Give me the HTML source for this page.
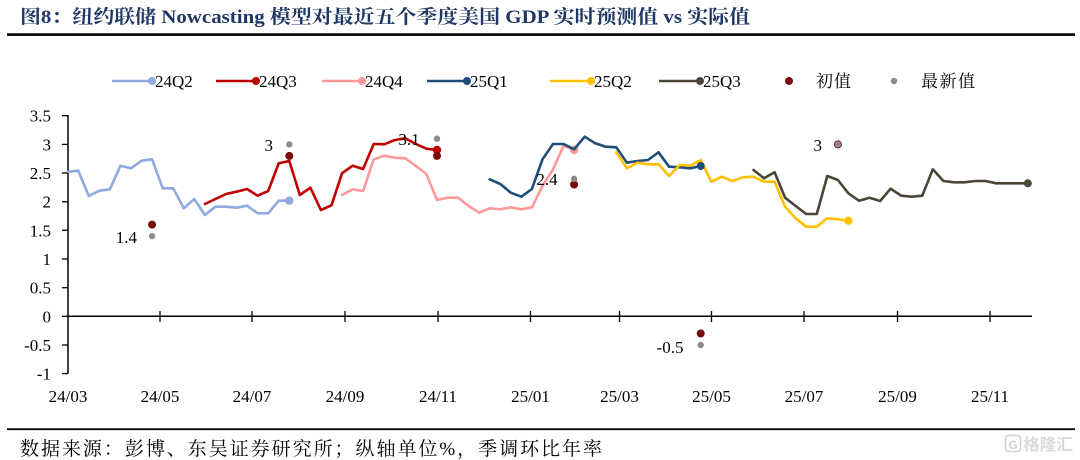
<!DOCTYPE html>
<html>
<head>
<meta charset="utf-8">
<style>
  html, body { margin: 0; padding: 0; background: #ffffff; }
  body { width: 1080px; height: 460px; overflow: hidden; }
  svg { display: block; }
  .t { font-family: "Liberation Serif", "Noto Serif CJK SC", serif; fill: #000; }
</style>
</head>
<body>
<svg width="1080" height="460" viewBox="0 0 1080 460" xmlns="http://www.w3.org/2000/svg">
  <rect x="0" y="0" width="1080" height="460" fill="#ffffff"/>

  <!-- Title -->
  <text class="t" x="20" y="23" font-size="19" font-weight="bold" style="fill:#1F3864" textLength="730" lengthAdjust="spacingAndGlyphs">图8：纽约联储 Nowcasting 模型对最近五个季度美国 GDP 实时预测值 vs 实际值</text>
  <rect x="7" y="33.3" width="1068" height="2.6" fill="#000"/>

  <!-- Legend -->
  <g stroke-width="2.5" fill="none">
    <line x1="112" y1="81" x2="152" y2="81" stroke="#8FAADC"/>
    <line x1="216" y1="81" x2="256" y2="81" stroke="#C00000"/>
    <line x1="322" y1="81" x2="362" y2="81" stroke="#FF9999"/>
    <line x1="427" y1="81" x2="467" y2="81" stroke="#1F4E79"/>
    <line x1="550" y1="81" x2="591" y2="81" stroke="#FFC000"/>
    <line x1="659" y1="81" x2="700" y2="81" stroke="#4B4535"/>
  </g>
  <circle cx="152" cy="81" r="4" fill="#8FAADC"/>
  <circle cx="256" cy="81" r="4" fill="#C00000"/>
  <circle cx="362" cy="81" r="4" fill="#FF9999"/>
  <circle cx="467" cy="81" r="4" fill="#1F4E79"/>
  <circle cx="591" cy="81" r="4" fill="#FFC000"/>
  <circle cx="700" cy="81" r="4" fill="#4B4535"/>
  <circle cx="789" cy="81" r="4" fill="#7B0A0A"/>
  <circle cx="894" cy="81" r="3.2" fill="#8C8C8C"/>
  <g class="t" font-size="17">
    <text x="155" y="87">24Q2</text>
    <text x="259" y="87">24Q3</text>
    <text x="365" y="87">24Q4</text>
    <text x="470" y="87">25Q1</text>
    <text x="594" y="87">25Q2</text>
    <text x="703" y="87">25Q3</text>
    <text x="816" y="87" textLength="35" lengthAdjust="spacing">初值</text>
    <text x="921" y="87" textLength="54" lengthAdjust="spacing">最新值</text>
  </g>

  <!-- Axes -->
  <line x1="68" y1="115" x2="68" y2="373.5" stroke="#000" stroke-width="1.5"/>
  <line x1="68" y1="316.3" x2="1032" y2="316.3" stroke="#000" stroke-width="1.5"/>
  <g stroke="#000" stroke-width="1.3">
    <line x1="62" y1="115.7" x2="68" y2="115.7"/>
    <line x1="62" y1="144.4" x2="68" y2="144.4"/>
    <line x1="62" y1="173" x2="68" y2="173"/>
    <line x1="62" y1="201.7" x2="68" y2="201.7"/>
    <line x1="62" y1="230.3" x2="68" y2="230.3"/>
    <line x1="62" y1="259" x2="68" y2="259"/>
    <line x1="62" y1="287.7" x2="68" y2="287.7"/>
    <line x1="62" y1="316.3" x2="68" y2="316.3"/>
    <line x1="62" y1="345" x2="68" y2="345"/>
    <line x1="62" y1="373.6" x2="68" y2="373.6"/>
    <line x1="160" y1="311" x2="160" y2="322"/>
    <line x1="252" y1="311" x2="252" y2="322"/>
    <line x1="345" y1="311" x2="345" y2="322"/>
    <line x1="438" y1="311" x2="438" y2="322"/>
    <line x1="530.5" y1="311" x2="530.5" y2="322"/>
    <line x1="619.5" y1="311" x2="619.5" y2="322"/>
    <line x1="711.5" y1="311" x2="711.5" y2="322"/>
    <line x1="804" y1="311" x2="804" y2="322"/>
    <line x1="897.5" y1="311" x2="897.5" y2="322"/>
    <line x1="990" y1="311" x2="990" y2="322"/>
  </g>
  <g class="t" font-size="17" text-anchor="end">
    <text x="51" y="121.7">3.5</text>
    <text x="51" y="150.4">3</text>
    <text x="51" y="179">2.5</text>
    <text x="51" y="207.7">2</text>
    <text x="51" y="236.3">1.5</text>
    <text x="51" y="265">1</text>
    <text x="51" y="293.7">0.5</text>
    <text x="51" y="322.3">0</text>
    <text x="51" y="351">-0.5</text>
    <text x="51" y="379.6">-1</text>
  </g>
  <g class="t" font-size="17" text-anchor="middle">
    <text x="68" y="402">24/03</text>
    <text x="160" y="402">24/05</text>
    <text x="252" y="402">24/07</text>
    <text x="345" y="402">24/09</text>
    <text x="438" y="402">24/11</text>
    <text x="530.5" y="402">25/01</text>
    <text x="619.5" y="402">25/03</text>
    <text x="711.5" y="402">25/05</text>
    <text x="804" y="402">25/07</text>
    <text x="897.5" y="402">25/09</text>
    <text x="990" y="402">25/11</text>
  </g>

  <!-- Series -->
  <g fill="none" stroke-width="2.6" stroke-linejoin="round" stroke-linecap="round">
    <polyline stroke="#8FAADC" points="67.7,171.7 78.3,170.7 88.8,196 99.4,190.7 109.9,189.3 120.5,165.7 131,168.3 141.6,160.7 152.1,159.3 162.7,188.3 173.2,188.3 183.8,208.3 194.3,199 204.9,215 215.4,206.7 226,206.7 236.5,207.7 247.1,205.7 257.6,213.3 268.2,213.3 278.7,200.7 289.3,200.7"/>
    <polyline stroke="#C00000" points="204.9,204 215.4,199 226,194 236.5,191.7 247.1,189 257.6,195.7 268.2,191 278.7,163.3 289.3,161 299.8,195 310.4,187.7 320.9,210 331.5,205.3 342,173.3 352.6,165.7 363.1,169 373.7,144 384.2,144.3 394.8,140 405.3,138.3 415.9,144 426.4,148.7 437,150"/>
    <polyline stroke="#FF9999" points="342,195 352.6,189.3 363.1,191 373.7,159.3 384.2,155.7 394.8,157.7 405.3,158.3 415.9,166 426.4,174 437,200 447.5,197.7 458.1,197.7 468.6,206 479.2,212.7 489.7,208.3 500.3,209.3 510.8,207.3 521.4,209.3 531.9,207.3 542.5,186 553,169.3 563.6,145.7 574.1,150"/>
  </g>
  <circle cx="289.3" cy="200.7" r="4.2" fill="#8FAADC"/>
  <circle cx="437" cy="150" r="4.2" fill="#C00000"/>
  <circle cx="574.1" cy="150" r="4.2" fill="#FF9999"/>
  <g fill="none" stroke-width="2.6" stroke-linejoin="round" stroke-linecap="round">
    <polyline stroke="#1F4E79" points="489.7,179.3 500.3,184 510.8,192.7 521.4,196.7 531.9,189 542.5,159.3 553,144 563.6,144 574.1,149.3 584.7,136.7 595.2,143.3 605.8,146.7 616.3,147.3 626.9,162.7 637.4,161 648,160 658.5,152.3 669.1,166.7 679.6,167.3 690.2,168.3 700.7,166"/>
    <polyline stroke="#FFC000" points="616.3,152.3 626.9,168.3 637.4,162.7 648,164.3 658.5,164.3 669.1,176 679.6,165 690.2,165.7 700.7,160 711.3,181.7 721.8,176.7 732.4,181 742.9,177.3 753.5,176.7 764,181.7 774.6,181.7 785.1,206.7 795.7,218.3 806.2,226.7 816.8,226.7 827.3,218.3 837.9,219.3 848.4,220.7"/>
    <polyline stroke="#4B4535" points="753.5,170 764,178.3 774.6,172.3 785.1,197.7 795.7,206 806.2,214 816.8,214 827.3,176 837.9,180 848.4,193.3 859,200.7 869.5,197.7 880.1,201 890.6,188.7 901.2,195.7 911.7,196.7 922.3,195.7 932.8,169.3 943.4,181 953.9,182.3 964.5,182.3 975,181 985.6,181 996.1,183.3 1006.7,183.3 1017.2,183.3 1027.8,183.3"/>
  </g>
  <circle cx="700.7" cy="166" r="4" fill="#1F4E79"/>
  <circle cx="848.4" cy="220.7" r="4.2" fill="#FFC000"/>
  <circle cx="1027.8" cy="183.3" r="4" fill="#4B4535"/>

  <!-- Initial / latest dots -->
  <g fill="#7B0A0A">
    <circle cx="152.1" cy="224.6" r="4"/>
    <circle cx="289.3" cy="155.9" r="4"/>
    <circle cx="437" cy="155.9" r="4"/>
    <circle cx="574.1" cy="184.5" r="4"/>
    <circle cx="700.7" cy="333.5" r="4"/>
    <circle cx="837.9" cy="144.4" r="4"/>
  </g>
  <g fill="#8C8C8C">
    <circle cx="152.1" cy="236.1" r="3.2"/>
    <circle cx="289.3" cy="144.4" r="3.2"/>
    <circle cx="437" cy="138.7" r="3.2"/>
    <circle cx="574.1" cy="178.8" r="3.2"/>
    <circle cx="700.7" cy="345" r="3.2"/>
    <circle cx="837.9" cy="144.4" r="3.2"/>
  </g>
  <g class="t" font-size="17">
    <text x="137" y="243" text-anchor="end">1.4</text>
    <text x="273" y="151" text-anchor="end">3</text>
    <text x="409" y="145" text-anchor="middle">3.1</text>
    <text x="547" y="185" text-anchor="middle">2.4</text>
    <text x="670" y="353" text-anchor="middle">-0.5</text>
    <text x="822" y="151" text-anchor="end">3</text>
  </g>

  <!-- Footer -->
  <rect x="7" y="428.3" width="1068" height="1.8" fill="#000"/>
  <text class="t" x="20" y="455" font-size="19" textLength="582" lengthAdjust="spacing">数据来源：彭博、东吴证券研究所；纵轴单位%，季调环比年率</text>

  <!-- Watermark -->
  <g opacity="0.9">
    <rect x="1005.5" y="435.5" width="15" height="16" rx="3" fill="none" stroke="#cfcfcf" stroke-width="1.6"/>
    <text x="1013" y="449" font-size="12" font-weight="bold" text-anchor="middle" style="font-family:'Liberation Sans',sans-serif;fill:#cfcfcf">G</text>
    <text x="1023" y="450" font-size="16" font-weight="bold" textLength="50" lengthAdjust="spacingAndGlyphs" style="font-family:'Liberation Sans','Noto Sans CJK SC',sans-serif;fill:#d6d6d6">格隆汇</text>
  </g>
</svg>
</body>
</html>
